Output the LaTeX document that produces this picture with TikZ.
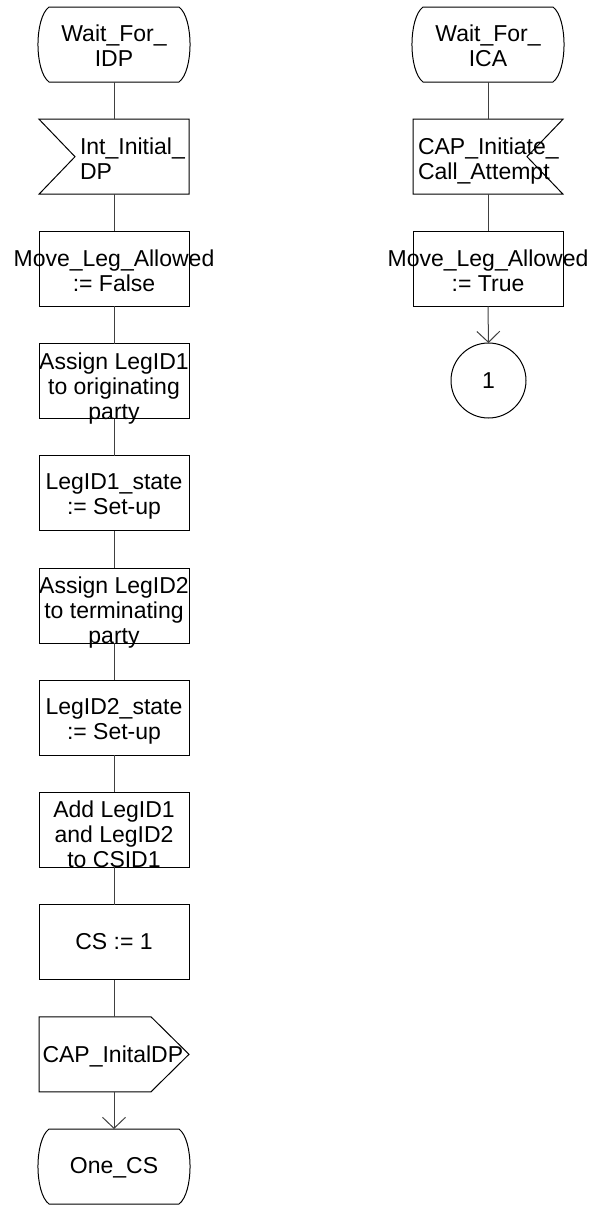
\documentclass[tikz,border=0pt]{standalone}
\usepackage{fontspec}
\setmainfont{Liberation Sans}
\usetikzlibrary{arrows.meta}
\begin{document}
\begin{tikzpicture}[x=1pt,y=-1pt,
  txt/.style={font=\fontsize{23}{25}\selectfont, inner sep=0pt, outer sep=0pt},
  frame/.style={minimum width=150pt, minimum height=75pt, inner sep=0pt, outer sep=0pt},
  taskbox/.style={frame, draw=black, line width=1pt},
  shp/.style={draw=black, line width=1pt},
  conn/.style={draw=black!75, line width=1pt},
  arr/.style={conn, -{Straight Barb[length=11pt, width=23pt, line width=1pt]}},
  statepic/.pic={\draw[shp] (-65,-37.5) -- (65,-37.5) .. controls (79.7,-26.5) and (79.7,26.5) .. (65,37.5) -- (-65,37.5) .. controls (-79.7,26.5) and (-79.7,-26.5) .. cycle;},
  inleftpic/.pic={\draw[shp, line join=miter] (-75,-37.5) -- (75,-37.5) -- (75,37.5) -- (-75,37.5) -- (-39,0) -- cycle;},
  inrightpic/.pic={\draw[shp, line join=miter] (75,-37.5) -- (-75,-37.5) -- (-75,37.5) -- (75,37.5) -- (39,0) -- cycle;},
  outpic/.pic={\draw[shp, line join=miter] (-75,-37.5) -- (37,-37.5) -- (75,0) -- (37,37.5) -- (-75,37.5) -- cycle;}
]
\useasboundingbox (0,0) rectangle (592,1205);

% ---------- left column ----------
\node[frame] (l0) at (114,44.5) {};
\pic at (l0.center) {statepic};
\node[txt, align=center, anchor=north] (t0) at (114,25.3) {Wait\_For\_\\IDP};

\node[frame] (l1) at (114,156.7) {};
\pic at (l1.center) {inleftpic};
\node[txt, align=left, anchor=north west] (t1) at (80,138.2) {Int\_Initial\_\\DP};

\node[taskbox] (l2) at (114,268.9) {};
\node[txt, align=center, anchor=north] (t2) at (114,249.7) {Move\_Leg\_Allowed\\:= False};

\node[taskbox] (l3) at (114,381.1) {};
\node[txt, align=center, anchor=north] (t3) at (114,352.4) {Assign LegID1\\to originating\\party};

\node[taskbox] (l4) at (114,493.3) {};
\node[txt, align=center, anchor=north] (t4) at (114,474.1) {LegID1\_state\\:= Set-up};

\node[taskbox] (l5) at (114,605.5) {};
\node[txt, align=center, anchor=north] (t5) at (114,576.8) {Assign LegID2\\to terminating\\party};

\node[taskbox] (l6) at (114,717.7) {};
\node[txt, align=center, anchor=north] (t6) at (114,698.5) {LegID2\_state\\:= Set-up};

\node[taskbox] (l7) at (114,829.9) {};
\node[txt, align=center, anchor=north] (t7) at (114,801.2) {Add LegID1\\and LegID2\\to CSID1};

\node[taskbox] (l8) at (114,942.1) {};
\node[txt, align=center, anchor=north] (t8) at (114,933.4) {CS := 1};

\node[frame] (l9) at (114,1054.3) {};
\pic at (l9.center) {outpic};
\node[txt, anchor=north west] (t9) at (42.5,1045.6) {CAP\_InitalDP};

\node[frame] (l10) at (114,1166.5) {};
\pic at (l10.center) {statepic};
\node[txt, anchor=north] (t10) at (114,1157.8) {One\_CS};

\draw[conn] (l0.south) -- (l1.north);
\draw[conn] (l1.south) -- (l2.north);
\draw[conn] (l2.south) -- (l3.north);
\draw[conn] (l3.south) -- (l4.north);
\draw[conn] (l4.south) -- (l5.north);
\draw[conn] (l5.south) -- (l6.north);
\draw[conn] (l6.south) -- (l7.north);
\draw[conn] (l7.south) -- (l8.north);
\draw[conn] (l8.south) -- (l9.north);
\draw[arr] (l9.south) -- (l10.north);

% ---------- right column ----------
\node[frame] (r0) at (488,44.5) {};
\pic at (r0.center) {statepic};
\node[txt, align=center, anchor=north] (s0) at (488,25.3) {Wait\_For\_\\ICA};

\node[frame] (r1) at (488,156.7) {};
\pic at (r1.center) {inrightpic};
\node[txt, align=left, anchor=north west] (s1) at (418,138.2) {CAP\_Initiate\_\\Call\_Attempt};

\node[taskbox] (r2) at (488,268.9) {};
\node[txt, align=center, anchor=north] (s2) at (488,249.7) {Move\_Leg\_Allowed\\:= True};

\node[circle, draw=black, line width=1pt, minimum size=75pt, inner sep=0pt, outer sep=0pt,
      font=\fontsize{23}{25}\selectfont] (c1) at (488.5,380.5) {1};

\draw[conn] (r0.south) -- (r1.north);
\draw[conn] (r1.south) -- (r2.north);
\draw[arr] (r2.south) -- (c1.north);
\end{tikzpicture}
\end{document}
